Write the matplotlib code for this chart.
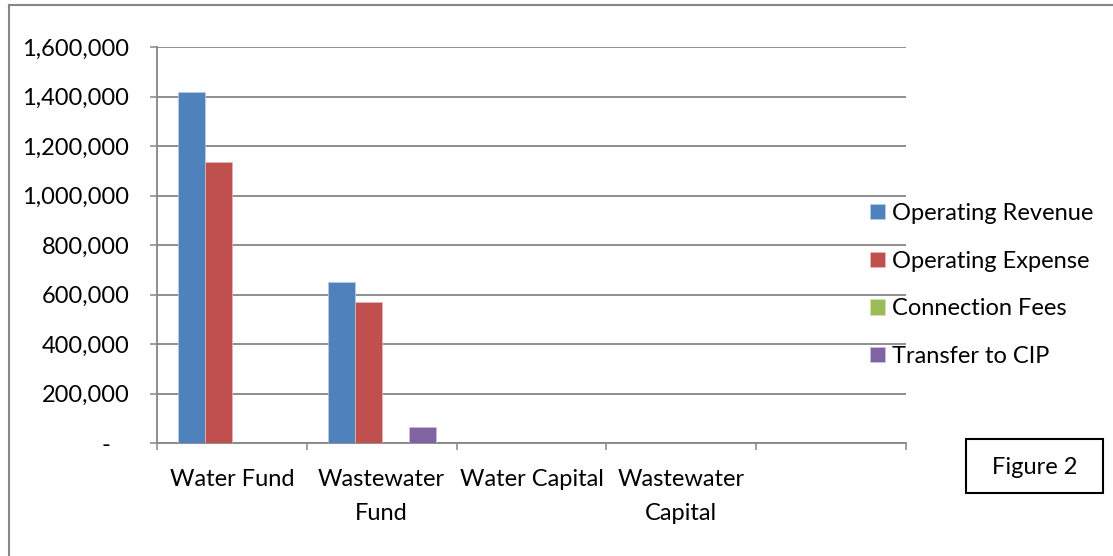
import matplotlib
matplotlib.use("Agg")
import matplotlib.pyplot as plt
from matplotlib.lines import Line2D
from matplotlib.patches import Rectangle
from matplotlib.ticker import FuncFormatter
import numpy as np

plt.rcParams["font.family"] = ["Lato", "DejaVu Sans"]

# data
categories = ["Water Fund", "Wastewater\nFund", "Water Capital", "Wastewater\nCapital", ""]
series = ["Operating Revenue", "Operating Expense", "Connection Fees", "Transfer to CIP"]
operating_revenue = [1418000, 650000, 0, 0, 0]
operating_expense = [1136000, 571000, 0, 0, 0]
connection_fees = [0, 0, 0, 0, 0]
transfer_to_cip = [0, 66000, 0, 0, 0]
yticks = [0, 200000, 400000, 600000, 800000, 1000000, 1200000, 1400000, 1600000]

colors = ["#4F81BD", "#C0504D", "#9BBB59", "#8064A2"]
edges = ["#B9CDE5", "#E6B9B8", "#D7E4BD", "#CCC1DA"]
GRAY = "#868686"
FS = 17

W, H = 1113, 556
fig = plt.figure(figsize=(W / 100, H / 100), dpi=100)
ax = fig.add_axes([157 / W, 1 - 443.3 / H, (906 - 157) / W, (443.3 - 47.3) / H])

x = np.arange(len(categories))
bw = 0.18
values = [operating_revenue, operating_expense, connection_fees, transfer_to_cip]
for j, (name, vals) in enumerate(zip(series, values)):
    ax.bar(x + (j - 1.5) * bw, vals, width=bw, color=colors[j],
           edgecolor=edges[j], linewidth=0.5, label=name, zorder=3)

ax.set_xlim(-0.5, len(categories) - 0.5)
ax.set_ylim(0, 1600000)

ax.set_yticks(yticks)
ax.yaxis.set_major_formatter(FuncFormatter(lambda v, p: "-   " if v == 0 else f"{int(v):,}"))
ax.tick_params(axis="y", length=5, width=1.1, color=GRAY, pad=15, labelsize=FS)
ax.yaxis.grid(True, color=GRAY, linewidth=1.3, zorder=0)
ax.set_axisbelow(True)

ax.set_xticks(np.arange(-0.5, len(categories)), labels=[""] * (len(categories) + 1))
ax.set_xticks(x, labels=categories, minor=True)
ax.tick_params(axis="x", which="major", length=5, width=1.1, color=GRAY)
ax.tick_params(axis="x", which="minor", length=0, pad=18.5, labelsize=FS)
for t in ax.get_xticklabels(minor=True):
    t.set_linespacing(1.75)

for s in ["top", "right"]:
    ax.spines[s].set_visible(False)
for s in ["left", "bottom"]:
    ax.spines[s].set_color(GRAY)
    ax.spines[s].set_linewidth(1.3)

ax.legend(loc="center left", bbox_to_anchor=(870 / W, 1 - 285 / H),
          bbox_transform=fig.transFigure, frameon=False, fontsize=FS,
          handlelength=0.62, handleheight=0.62, handletextpad=0.3,
          labelspacing=1.13, borderpad=0, borderaxespad=0)

# outer chart frame (runs off the right and bottom edges)
fig.add_artist(Line2D([9 / W, 1.0], [1 - 4.5 / H, 1 - 4.5 / H], color=GRAY, linewidth=1.5))
fig.add_artist(Line2D([9 / W, 9 / W], [0.0, 1 - 4.5 / H], color=GRAY, linewidth=1.5))

# "Figure 2" box
fig.add_artist(Rectangle((966 / W, 1 - 493 / H), 137 / W, 54 / H,
                         transform=fig.transFigure, fill=False,
                         edgecolor="black", linewidth=1.5))
fig.text(1034.5 / W, 1 - 468 / H, "Figure 2", ha="center", va="center", fontsize=FS)

fig.savefig("out.png", dpi=100)
